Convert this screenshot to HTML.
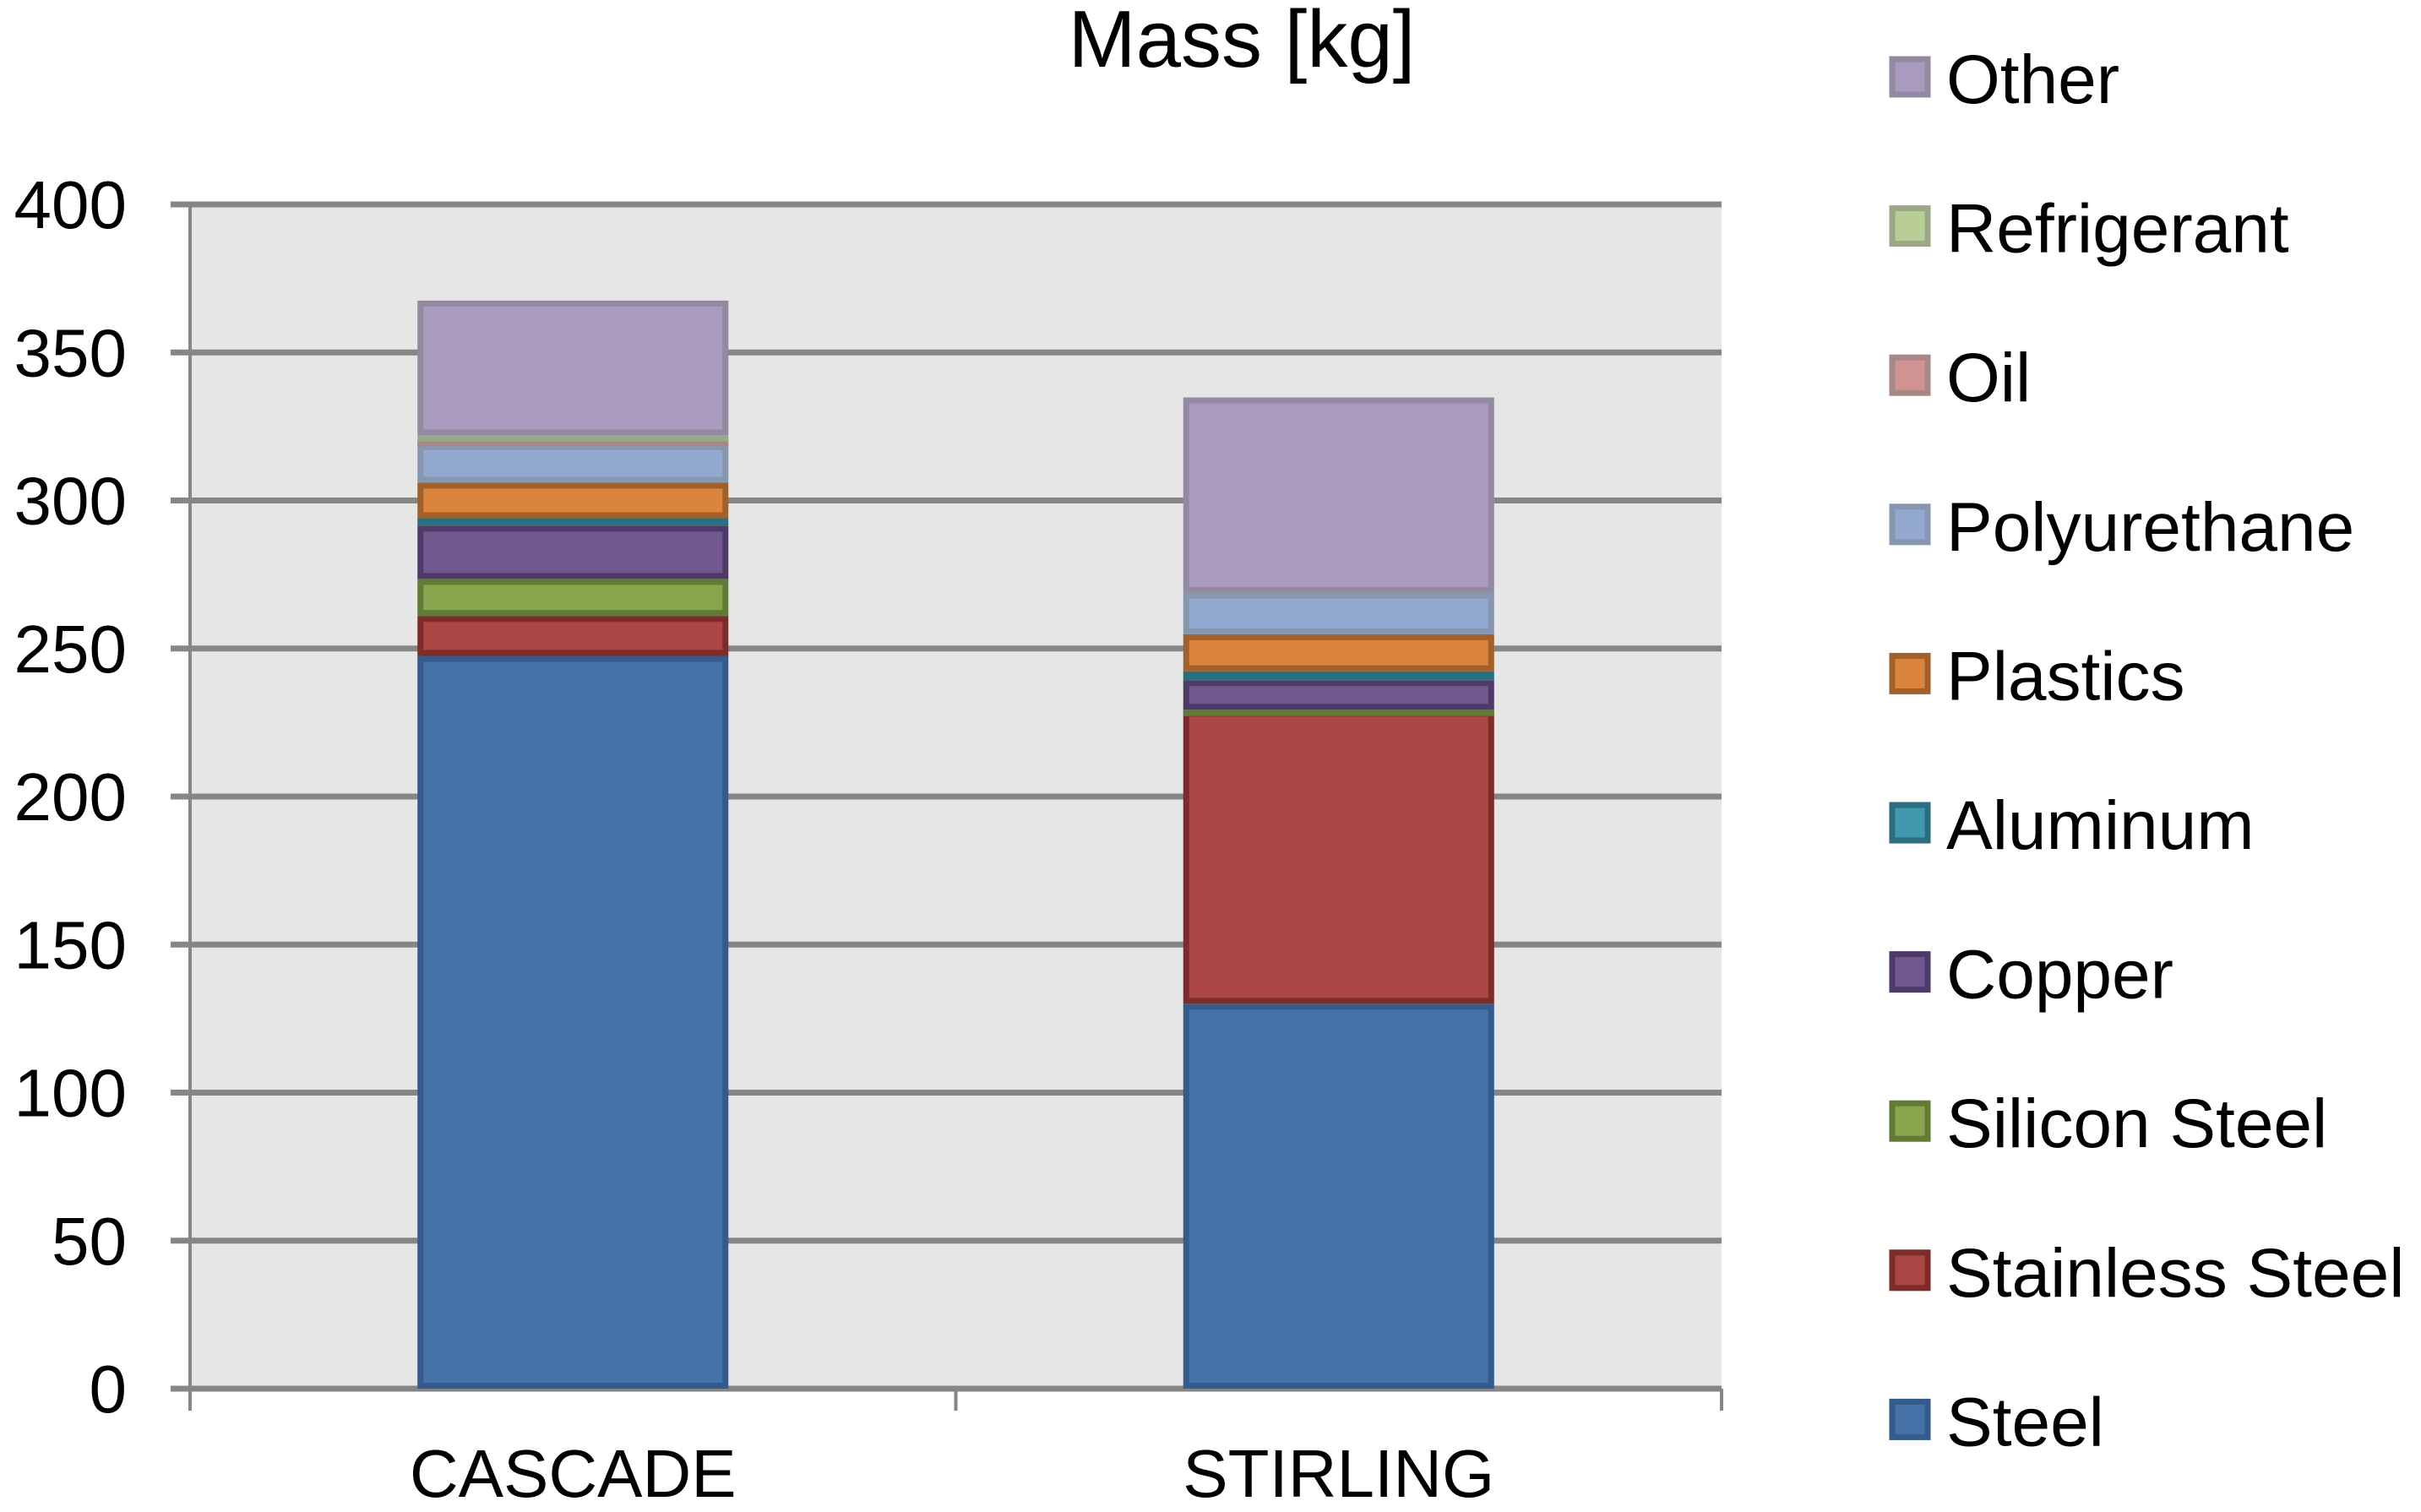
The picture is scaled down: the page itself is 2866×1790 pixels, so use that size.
<!DOCTYPE html>
<html><head><meta charset="utf-8"><style>
html,body{margin:0;padding:0;background:#fff;}
svg{display:block;font-family:"Liberation Sans",Arial,sans-serif;}
</style></head><body>
<svg id="chart" width="2866" height="1790" viewBox="0 0 2866 1790" xmlns="http://www.w3.org/2000/svg">
<rect x="0" y="0" width="2866" height="1790" fill="#fff"/>
<text x="1470" y="79" font-size="96" text-anchor="middle" fill="#000">Mass [kg]</text>
<rect x="225" y="242" width="1813" height="1402" fill="#e6e6e6"/>
<g id="grid"></g>
<g id="bars"></g>
<g id="axes"></g>
<g id="legend"></g>
</svg>
<script>
const categories = ["CASCADE", "STIRLING"];
const seriesNames = ["Steel","Stainless Steel","Silicon Steel","Copper","Aluminum","Plastics","Polyurethane","Oil","Refrigerant","Other"];
const steel = [247.5, 130];
const stainlessSteel = [13.5, 99];
const siliconSteel = [12.5, 0.3];
const copper = [18, 10];
const aluminum = [2.5, 3];
const plastics = [12, 12.5];
const polyurethane = [13, 14];
const oil = [1.5, 0];
const refrigerant = [1.5, 0];
const other = [45.5, 66];
const yTicks = [0, 50, 100, 150, 200, 250, 300, 350, 400];

const seriesValues = [steel, stainlessSteel, siliconSteel, copper, aluminum, plastics, polyurethane, oil, refrigerant, other];
const fills = ["#4572a7","#aa4643","#89a54e","#71588f","#4198af","#db843d","#93a9cf","#d19392","#b9cd96","#a99bbd"];
const strokes = ["#345b8b","#7d2c2b","#617a35","#4e3a68","#2a6e7f","#a2602a","#8897b0","#a88887","#9aa887","#938aa2"];

const NS = "http://www.w3.org/2000/svg";
const X0 = 225, X1 = 2038, Y0 = 1644, YMAX = 242;
function yScale(v){ return Y0 - (v/400)*(Y0-YMAX); }
const band = (X1-X0)/categories.length;
function xCenter(i){ return X0 + band*(i+0.5); }
const barW = band*0.406;

function mk(tag, attrs, parent){
  const el = document.createElementNS(NS, tag);
  for (const k in attrs) el.setAttribute(k, attrs[k]);
  parent.appendChild(el);
  return el;
}
const grid = document.getElementById('grid');
const axes = document.getElementById('axes');
const bars = document.getElementById('bars');
const legend = document.getElementById('legend');

yTicks.forEach(t => {
  const y = yScale(t);
  const ln = mk('line', {x1: 202, x2: X1, y1: y, y2: y, stroke: '#868686', 'stroke-width': 7}, grid);
  
  
  const tx = mk('text', {x: 150, y: y + 28, 'font-size': 80, 'text-anchor': 'end', fill: '#000'}, axes);
  tx.textContent = t;
  
  
});
const yAxis = mk('line', {x1: X0, x2: X0, y1: YMAX, y2: 1670, stroke: '#868686', 'stroke-width': 4}, axes);


for (let i = 0; i <= categories.length; i++) {
  const x = X0 + band*i;
  const tk = mk('line', {x1: x, x2: x, y1: Y0, y2: 1670, stroke: '#868686', 'stroke-width': 4}, axes);
  
  
}
categories.forEach((c, i) => {
  const tx = mk('text', {x: xCenter(i), y: 1772, 'font-size': 80, 'text-anchor': 'middle', fill: '#000'}, axes);
  tx.textContent = c;
  
  
});

categories.forEach((c, i) => {
  let acc = 0;
  seriesValues.forEach((arr, s) => {
    const v = arr[i];
    const yTop = yScale(acc + v), yBot = yScale(acc);
    acc += v;
    if (v <= 0) return;
    const r = mk('rect', {x: xCenter(i) - barW/2 + 3.5, y: yTop + 3.5, width: barW - 7, height: Math.max(0.5, yBot - yTop - 7), fill: fills[s], stroke: strokes[s], 'stroke-width': 7}, bars);
    
    
  });
});

const order = seriesNames.map((n, i) => i).reverse();
order.forEach((s, k) => {
  const base = 122 + k*176.6;
  const sq = mk('rect', {x: 2240, y: base - 52, width: 42, height: 42, fill: fills[s], stroke: strokes[s], 'stroke-width': 7}, legend);
  
  
  const tx = mk('text', {x: 2304, y: base, 'font-size': 82, fill: '#000'}, legend);
  tx.textContent = seriesNames[s];
  
  
});
</script>
</body></html>
